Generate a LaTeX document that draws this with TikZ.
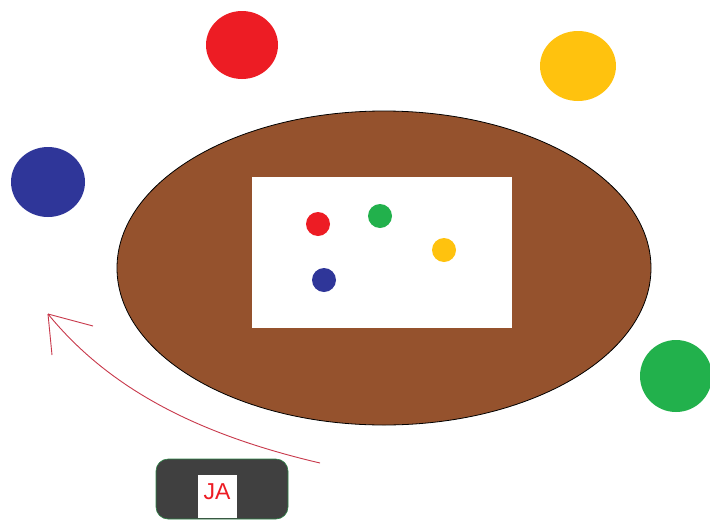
\documentclass[tikz,border=0pt]{standalone}
\usepackage{fontspec}
\newfontfamily\labelfont{Liberation Sans}
\usetikzlibrary{shapes.geometric}
\definecolor{pred}{HTML}{ED1C24}
\definecolor{pyellow}{HTML}{FFC20E}
\definecolor{pblue}{HTML}{2F3699}
\definecolor{pgreen}{HTML}{22B14C}
\definecolor{pbrown}{HTML}{95522D}
\definecolor{pdark}{HTML}{404040}
\definecolor{arrowred}{HTML}{C8384A}
\begin{document}
\begin{tikzpicture}[x=1pt,y=-1pt,
  bigdot/.style={ellipse,inner sep=0pt,draw=none},
  smalldot/.style={circle,inner sep=0pt,minimum size=24pt,draw=none},
  redline/.style={draw=arrowred,line width=0.9pt}]
\useasboundingbox (0,0) rectangle (710,520);
\fill[white] (0,0) rectangle (710,520);
% table
\node[ellipse,draw=black,line width=0.8pt,fill=pbrown,minimum width=534pt,minimum height=314pt,inner sep=0pt] (table) at (384,268) {};
\node[rectangle,fill=white,minimum width=260pt,minimum height=151pt,inner sep=0pt] (board) at (382,252.5) {};
% small dots
\node[smalldot,fill=pred] (sred) at (318,224) {};
\node[smalldot,fill=pgreen] (sgreen) at (380,216) {};
\node[smalldot,fill=pyellow] (syellow) at (444,250) {};
\node[smalldot,fill=pblue] (sblue) at (324,280) {};
% big dots
\node[bigdot,fill=pred,minimum width=72pt,minimum height=68pt] (bred) at (242,45) {};
\node[bigdot,fill=pyellow,minimum width=76pt,minimum height=70pt] (byellow) at (578,66) {};
\node[bigdot,fill=pblue,minimum width=74pt,minimum height=70pt] (bblue) at (48,182) {};
\node[bigdot,fill=pgreen,minimum width=72pt,minimum height=72pt] (bgreen) at (676,376) {};
% JA box
\node[rectangle,rounded corners=12pt,fill=pdark,draw=pgreen!60!pdark,line width=0.6pt,minimum width=132pt,minimum height=60pt,inner sep=0pt] (box) at (222,489) {};
\node[rectangle,fill=white,minimum width=39pt,minimum height=43pt,inner sep=0pt,anchor=south] (ja) at (217.5,518) {};
\node[text=pred,font=\labelfont\fontsize{23pt}{23pt}\selectfont,anchor=center,inner sep=0pt] (jatext) at (217,492) {JA};
% arrow
\coordinate (start) at (320,463);
\coordinate (tip) at (48,314);
\coordinate (barbA) at (93,326);
\coordinate (barbB) at (52,355);
\draw[redline] (start) .. controls (200,435) and (110,390) .. (tip);
\draw[redline] (tip) -- (barbA);
\draw[redline] (tip) -- (barbB);
\end{tikzpicture}
\end{document}
